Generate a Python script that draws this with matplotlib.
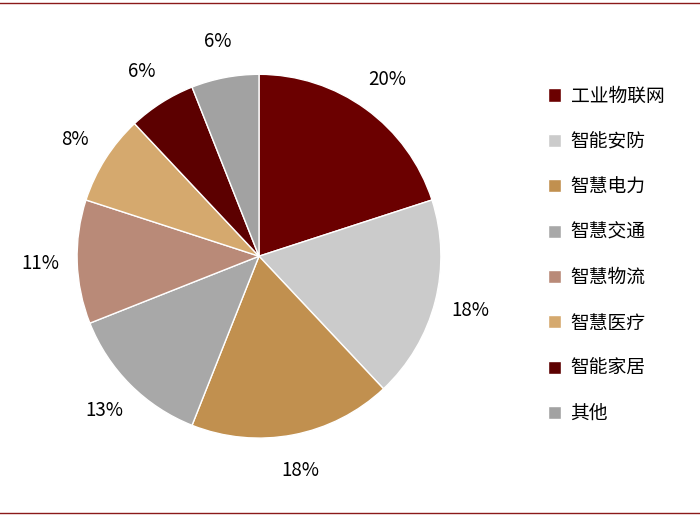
import matplotlib
matplotlib.use('Agg')
import matplotlib.pyplot as plt
from matplotlib.lines import Line2D

plt.rcParams['font.family'] = ['Noto Sans CJK SC', 'DejaVu Sans']

categories = ['工业物联网', '智能安防', '智慧电力', '智慧交通', '智慧物流', '智慧医疗', '智能家居', '其他']
shares = [20, 18, 18, 13, 11, 8, 6, 6]
colors = ['#6B0000', '#CBCBCB', '#C1904F', '#A8A8A8', '#B98A78', '#D5A96E', '#5C0000', '#A2A2A2']

fig = plt.figure(figsize=(7, 5.16), dpi=100)
ax = fig.add_axes([0.11, 0.151, 0.52, 0.705])
wedges, _, autotexts = ax.pie(shares, colors=colors, startangle=90, counterclock=False,
                              autopct='%d%%', pctdistance=1.2,
                              wedgeprops=dict(edgecolor='white', linewidth=1),
                              textprops=dict(fontsize=13.5, color='black'))
ax.set_aspect('equal')
ax.set_xlim(-1, 1)
ax.set_ylim(-1, 1)

fig.legend(wedges, categories, loc='upper left', bbox_to_anchor=(0.775, 0.845),
           frameon=False, prop={'size': 13.5}, handlelength=0.7, handleheight=0.7,
           handletextpad=0.5, labelspacing=1.3, borderaxespad=0, borderpad=0.3)

for y in (0.994, 0.006):
    fig.add_artist(Line2D([0, 1], [y, y], color='#8B1A1A', linewidth=1))

fig.savefig('out.png', dpi=100)
